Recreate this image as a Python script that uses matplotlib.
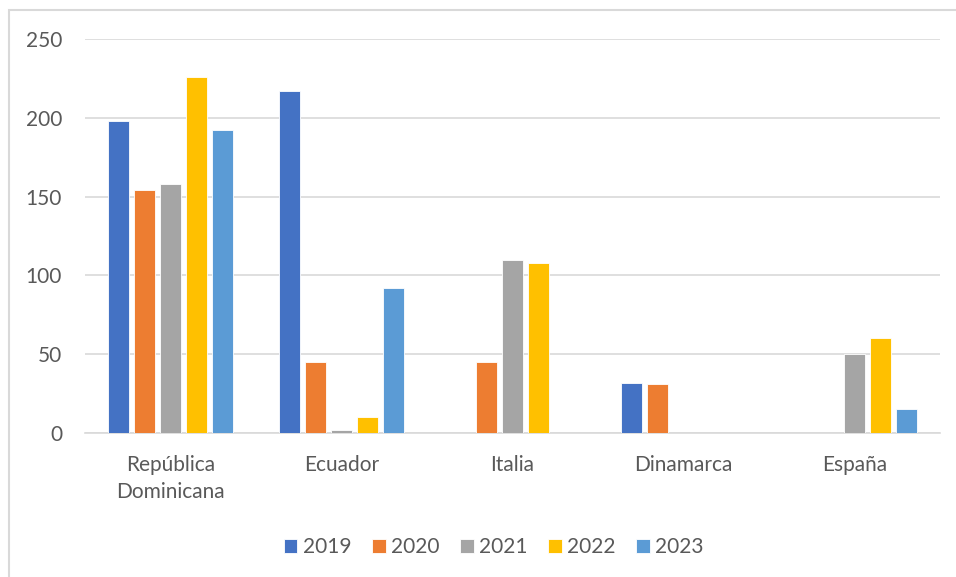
import matplotlib.pyplot as plt
import numpy as np
from matplotlib.patches import Rectangle

# Data
countries = ["República\nDominicana", "Ecuador", "Italia", "Dinamarca", "España"]
years = ["2019", "2020", "2021", "2022", "2023"]
v2019 = [198, 217, 0, 32, 0]
v2020 = [154, 45, 45, 31, 0]
v2021 = [158, 2, 110, 0, 50]
v2022 = [226, 10, 108, 0, 60]
v2023 = [192, 92, 0, 0, 15]
series = [v2019, v2020, v2021, v2022, v2023]
colors = ["#4472C4", "#ED7D31", "#A5A5A5", "#FFC000", "#5B9BD5"]

plt.rcParams["font.family"] = ["Lato", "DejaVu Sans"]
text_color = "#595959"

fig = plt.figure(figsize=(9.56, 5.77), dpi=100)
# chart-area border (light gray)
fig.patches.append(Rectangle((9 / 956, -0.01), 1.0, (577 - 10) / 577 + 0.01,
                             transform=fig.transFigure, fill=False,
                             edgecolor="#D9D9D9", linewidth=1.5))

ax = fig.add_axes([85 / 956, (577 - 433) / 577, 855 / 956, (433 - 39) / 577])

x = np.arange(len(countries))
step = 0.152
width = 0.125
for i, (vals, c, yr) in enumerate(zip(series, colors, years)):
    ax.bar(x + (i - 2) * step, vals, width=width, color=c, label=yr,
           edgecolor="white", linewidth=0.6, zorder=3)

ax.set_xlim(-0.5, len(countries) - 0.5)
ax.set_ylim(0, 250)
ax.set_yticks(range(0, 251, 50))
ax.grid(axis="y", color="#D9D9D9", linewidth=1.2, zorder=0)
for s in ["top", "right", "left"]:
    ax.spines[s].set_visible(False)
ax.spines["bottom"].set_color("#D9D9D9")
ax.spines["bottom"].set_linewidth(1.2)
ax.tick_params(axis="both", length=0, labelsize=15, labelcolor=text_color)
ax.tick_params(axis="y", pad=16.5)
ax.tick_params(axis="x", pad=16)
ax.set_xticks(x)
ax.set_xticklabels(countries, linespacing=1.45)

ax.legend(loc="center", bbox_to_anchor=(0.478, (547 - 433) / -394),
          ncol=5, frameon=False, fontsize=15, handlelength=0.65,
          handleheight=0.65, handletextpad=0.25, columnspacing=1.0,
          labelcolor=text_color)

fig.savefig("out.png", dpi=100)
